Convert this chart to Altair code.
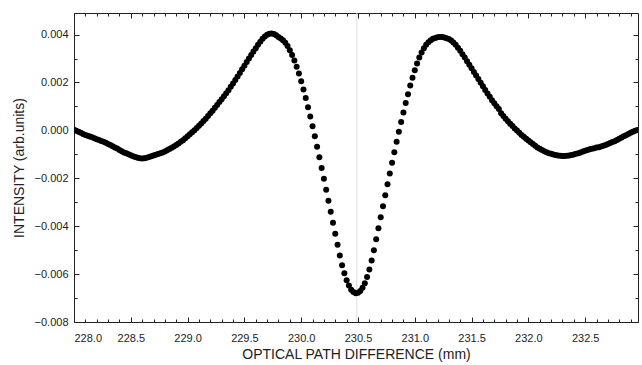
import altair as alt
import pandas as pd

# Sampling grid of the optical path difference (mm)
opd_start = 228.0
opd_step = 0.02

# Intensity readings in units of 1e-3 (arb. units), one per grid step
intensity_milli = [
    0.03, -0.02, -0.06, -0.10, -0.15, -0.19, -0.22, -0.26, -0.29, -0.33,
    -0.37, -0.40, -0.44, -0.48, -0.52, -0.57, -0.61, -0.66, -0.71, -0.76,
    -0.82, -0.87, -0.92, -0.96, -1.00, -1.04, -1.08, -1.11, -1.14, -1.16,
    -1.17, -1.16, -1.14, -1.11, -1.08, -1.05, -1.02, -0.99, -0.96, -0.92,
    -0.88, -0.83, -0.78, -0.73, -0.67, -0.61, -0.55, -0.48, -0.41, -0.33,
    -0.25, -0.16, -0.08, 0.01, 0.10, 0.19, 0.29, 0.39, 0.49, 0.60,
    0.71, 0.82, 0.94, 1.06, 1.18, 1.30, 1.42, 1.55, 1.68, 1.82,
    1.96, 2.10, 2.25, 2.40, 2.55, 2.70, 2.85, 3.00, 3.15, 3.29,
    3.43, 3.57, 3.70, 3.82, 3.92, 3.99, 4.03, 4.04, 4.02, 3.97,
    3.90, 3.84, 3.76, 3.66, 3.52, 3.34, 3.15, 2.92, 2.66, 2.37,
    2.05, 1.71, 1.35, 0.97, 0.58, 0.17, -0.25, -0.68, -1.12, -1.57,
    -2.02, -2.48, -2.94, -3.40, -3.86, -4.32, -4.78, -5.22, -5.63, -5.97,
    -6.26, -6.48, -6.65, -6.75, -6.80, -6.78, -6.71, -6.57, -6.38, -6.12,
    -5.81, -5.43, -5.00, -4.55, -4.09, -3.63, -3.17, -2.71, -2.25, -1.80,
    -1.35, -0.91, -0.48, -0.06, 0.35, 0.75, 1.14, 1.51, 1.87, 2.20,
    2.51, 2.79, 3.04, 3.25, 3.43, 3.57, 3.68, 3.76, 3.82, 3.86,
    3.89, 3.90, 3.90, 3.88, 3.85, 3.81, 3.75, 3.67, 3.57, 3.45,
    3.32, 3.18, 3.04, 2.89, 2.74, 2.59, 2.44, 2.29, 2.14, 1.99,
    1.84, 1.69, 1.54, 1.40, 1.26, 1.13, 1.01, 0.89, 0.72, 0.60,
    0.49, 0.38, 0.28, 0.18, 0.08, -0.01, -0.10, -0.19, -0.27, -0.35,
    -0.42, -0.50, -0.57, -0.64, -0.71, -0.77, -0.82, -0.87, -0.91, -0.95,
    -0.98, -1.01, -1.03, -1.05, -1.06, -1.07, -1.07, -1.06, -1.05, -1.03,
    -1.01, -0.98, -0.95, -0.92, -0.88, -0.85, -0.82, -0.79, -0.77, -0.75,
    -0.72, -0.70, -0.67, -0.64, -0.61, -0.57, -0.53, -0.49, -0.45, -0.40,
    -0.35, -0.30, -0.25, -0.20, -0.15, -0.10, -0.06, -0.02, 0.02,
]

x_major = [228.0, 228.5, 229.0, 229.5, 230.0, 230.5, 231.0, 231.5, 232.0, 232.5]
x_minor = [round(228.0 + 0.1 * i, 1) for i in range(50)]
y_major = [-0.008, -0.006, -0.004, -0.002, 0.0, 0.002, 0.004]
y_minor = [-0.007, -0.005, -0.003, -0.001, 0.001, 0.003]
center_line = [230.49]

x_domain = [228.0, 232.965]
y_domain = [-0.008, 0.0049]

df = pd.DataFrame({
    "opd": [round(opd_start + opd_step * i, 2) for i in range(len(intensity_milli))],
    "intensity": [v / 1000.0 for v in intensity_milli],
})

FONT = "Liberation Sans"
TXT = "#222222"
TICK = "#222222"

xs = alt.Scale(domain=x_domain, nice=False, zero=False)
ys = alt.Scale(domain=y_domain, nice=False, zero=False)


def xaxis(orient, values, size, labels=False, title=None):
    kw = dict(orient=orient, values=values, domain=False, grid=False,
              tickSize=size, offset=-size, tickColor=TICK, tickWidth=1,
              labels=labels)
    if labels:
        kw.update(format=".1f", labelFont=FONT, labelFontSize=11,
                  labelColor=TXT, labelPadding=10)
    if title:
        kw.update(title=title, titleFont=FONT, titleFontSize=14,
                  titleFontWeight="normal", titleColor=TXT, titlePadding=4)
    else:
        kw.update(title=None)
    return alt.Axis(**kw)


def yaxis(orient, values, size, labels=False, title=None):
    kw = dict(orient=orient, values=values, domain=False, grid=False,
              tickSize=size, offset=-size, tickColor=TICK, tickWidth=1,
              labels=labels)
    if labels:
        kw.update(format=".3f", labelFont=FONT, labelFontSize=11,
                  labelColor=TXT, labelPadding=6)
    if title:
        kw.update(title=title, titleFont=FONT, titleFontSize=14,
                  titleFontWeight="normal", titleColor=TXT, titlePadding=8)
    else:
        kw.update(title=None)
    return alt.Axis(**kw)


base = alt.Chart(df)

rule = alt.Chart(pd.DataFrame({"x": center_line})).mark_rule(
    color="#dcdcdc", strokeWidth=1
).encode(x=alt.X("x:Q", scale=xs, axis=None))

points = base.mark_circle(color="black", opacity=1, size=36, clip=True).encode(
    x=alt.X("opd:Q", scale=xs,
            axis=xaxis("bottom", x_major, 5, labels=True,
                       title="OPTICAL PATH DIFFERENCE (mm)")),
    y=alt.Y("intensity:Q", scale=ys,
            axis=yaxis("left", y_major, 5, labels=True,
                       title="INTENSITY (arb.units)")),
)

minor_bl = base.mark_point(opacity=0).encode(
    x=alt.X("opd:Q", scale=xs, axis=xaxis("bottom", x_minor, 3)),
    y=alt.Y("intensity:Q", scale=ys, axis=yaxis("left", y_minor, 3)),
)
major_tr = base.mark_point(opacity=0).encode(
    x=alt.X("opd:Q", scale=xs, axis=xaxis("top", x_major, 5)),
    y=alt.Y("intensity:Q", scale=ys, axis=yaxis("right", y_major, 5)),
)
minor_tr = base.mark_point(opacity=0).encode(
    x=alt.X("opd:Q", scale=xs, axis=xaxis("top", x_minor, 3)),
    y=alt.Y("intensity:Q", scale=ys, axis=yaxis("right", y_minor, 3)),
)

chart = (
    alt.layer(rule, points, minor_bl, major_tr, minor_tr)
    .resolve_scale(x="independent", y="independent")
    .properties(
        width=564,
        height=309,
        autosize=alt.AutoSizeParams(type="none"),
        padding={"left": 74, "top": 13, "right": 4, "bottom": 43},
        background="white",
    )
    .configure_view(stroke="#222222", strokeWidth=1)
)

chart.save("out.html", embed_options={"renderer": "svg", "actions": False})
